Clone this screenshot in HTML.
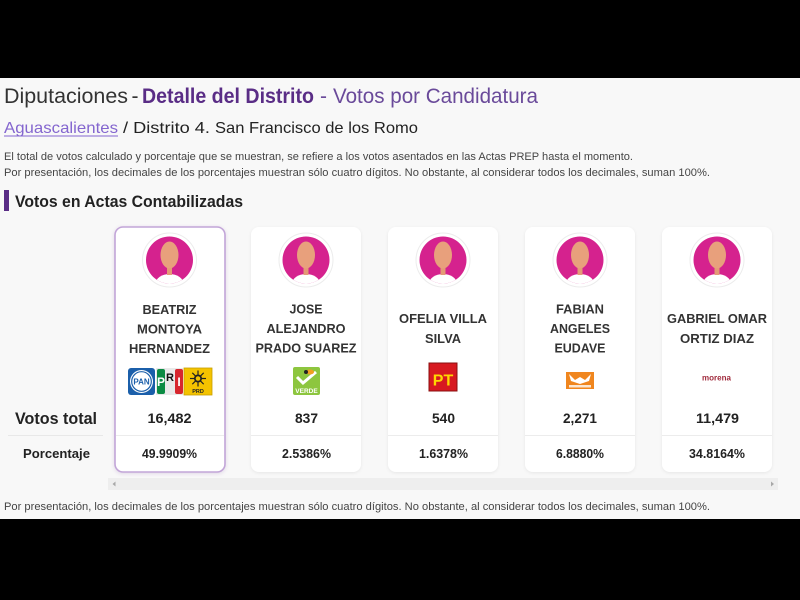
<!DOCTYPE html>
<html>
<head>
<meta charset="utf-8">
<style>
  html,body{margin:0;padding:0;background:#000;}
  svg{display:block;}
  text{font-family:"Liberation Sans", Arial, sans-serif;}
</style>
</head>
<body>
<svg width="800" height="600" viewBox="0 0 800 600" xmlns="http://www.w3.org/2000/svg">
  <defs>
    <filter id="sh" x="-10%" y="-10%" width="120%" height="120%">
      <feDropShadow dx="0" dy="1" stdDeviation="1.5" flood-color="#000" flood-opacity="0.07"/>
    </filter>
    <filter id="sh1" x="-10%" y="-10%" width="120%" height="120%">
      <feDropShadow dx="0" dy="1" stdDeviation="1.8" flood-color="#6a3d8f" flood-opacity="0.18"/>
    </filter>
    <clipPath id="av1"><circle cx="169.5" cy="260" r="23.5"/></clipPath>
    <clipPath id="av2"><circle cx="306" cy="260" r="23.5"/></clipPath>
    <clipPath id="av3"><circle cx="443" cy="260" r="23.5"/></clipPath>
    <clipPath id="av4"><circle cx="580" cy="260" r="23.5"/></clipPath>
    <clipPath id="av5"><circle cx="717" cy="260" r="23.5"/></clipPath>
  </defs>

  <!-- black bars + page -->
  <rect x="0" y="0" width="800" height="600" fill="#000"/>
  <rect x="0" y="78" width="800" height="441" fill="#f8f8f8"/>

  <!-- Title -->
  <text x="4" y="103" font-size="21" fill="#333" textLength="124" lengthAdjust="spacingAndGlyphs">Diputaciones</text>
  <text x="131.5" y="103" font-size="21" fill="#333">-</text>
  <text x="142" y="103" font-size="21" font-weight="bold" fill="#5a2d86" textLength="172" lengthAdjust="spacingAndGlyphs">Detalle del Distrito</text>
  <text x="320" y="103" font-size="21" fill="#6a4a9a">-</text>
  <text x="333" y="103" font-size="21" fill="#6a4a9a" textLength="205" lengthAdjust="spacingAndGlyphs">Votos por Candidatura</text>

  <!-- Breadcrumb -->
  <text x="4" y="133" font-size="16" fill="#8466cf" textLength="114" lengthAdjust="spacingAndGlyphs">Aguascalientes</text>
  <rect x="4" y="135.5" width="114" height="1" fill="#8466cf"/>
  <text x="123" y="133" font-size="16" fill="#222" textLength="87" lengthAdjust="spacingAndGlyphs">/ Distrito 4.</text>
  <text x="215" y="133" font-size="16" fill="#222" textLength="203" lengthAdjust="spacingAndGlyphs">San Francisco de los Romo</text>

  <!-- info text -->
  <text x="4" y="160" font-size="11" fill="#444" textLength="629" lengthAdjust="spacingAndGlyphs">El total de votos calculado y porcentaje que se muestran, se refiere a los votos asentados en las Actas PREP hasta el momento.</text>
  <text x="4" y="176" font-size="11" fill="#444" textLength="706" lengthAdjust="spacingAndGlyphs">Por presentación, los decimales de los porcentajes muestran sólo cuatro dígitos. No obstante, al considerar todos los decimales, suman 100%.</text>

  <!-- Section heading -->
  <rect x="4" y="190" width="5" height="21" fill="#5a2d86"/>
  <text x="15" y="207" font-size="17" font-weight="bold" fill="#222" textLength="228" lengthAdjust="spacingAndGlyphs">Votos en Actas Contabilizadas</text>

  <!-- Row labels -->
  <text x="15" y="424" font-size="17" font-weight="bold" fill="#222" textLength="82" lengthAdjust="spacingAndGlyphs">Votos total</text>
  <rect x="8" y="435" width="95" height="1" fill="#e8e8e8"/>
  <text x="23" y="458" font-size="13" font-weight="bold" fill="#222" textLength="67" lengthAdjust="spacingAndGlyphs">Porcentaje</text>

  <!-- Cards -->
  <rect x="115" y="227" width="110" height="245" rx="8" fill="#fff" stroke="#c2a5d8" stroke-width="1.6" filter="url(#sh1)"/>
  <rect x="251" y="227" width="110" height="245" rx="8" fill="#fff" filter="url(#sh)"/>
  <rect x="388" y="227" width="110" height="245" rx="8" fill="#fff" filter="url(#sh)"/>
  <rect x="525" y="227" width="110" height="245" rx="8" fill="#fff" filter="url(#sh)"/>
  <rect x="662" y="227" width="110" height="245" rx="8" fill="#fff" filter="url(#sh)"/>

  <!-- dividers in cards -->
  <rect x="116" y="435" width="108" height="1" fill="#ececec"/>
  <rect x="251" y="435" width="110" height="1" fill="#ececec"/>
  <rect x="388" y="435" width="110" height="1" fill="#ececec"/>
  <rect x="525" y="435" width="110" height="1" fill="#ececec"/>
  <rect x="662" y="435" width="110" height="1" fill="#ececec"/>

  <!-- Avatars -->
  <g>
    <circle cx="169.5" cy="260" r="27" fill="#fff" stroke="#ececec" stroke-width="1"/>
    <circle cx="169.5" cy="260" r="23.5" fill="#d5228e"/>
    <g clip-path="url(#av1)">
      <ellipse cx="169.5" cy="284" rx="14" ry="10" fill="#fff"/>
      <rect x="167" y="264" width="5" height="11" fill="#e39a76"/>
      <ellipse cx="169.5" cy="255" rx="9" ry="13.5" fill="#e8a07c"/>
    </g>
  </g>
  <g>
    <circle cx="306" cy="260" r="27" fill="#fff" stroke="#ececec" stroke-width="1"/>
    <circle cx="306" cy="260" r="23.5" fill="#d5228e"/>
    <g clip-path="url(#av2)">
      <ellipse cx="306" cy="284" rx="14" ry="10" fill="#fff"/>
      <rect x="303.5" y="264" width="5" height="11" fill="#e39a76"/>
      <ellipse cx="306" cy="255" rx="9" ry="13.5" fill="#e8a07c"/>
    </g>
  </g>
  <g>
    <circle cx="443" cy="260" r="27" fill="#fff" stroke="#ececec" stroke-width="1"/>
    <circle cx="443" cy="260" r="23.5" fill="#d5228e"/>
    <g clip-path="url(#av3)">
      <ellipse cx="443" cy="284" rx="14" ry="10" fill="#fff"/>
      <rect x="440.5" y="264" width="5" height="11" fill="#e39a76"/>
      <ellipse cx="443" cy="255" rx="9" ry="13.5" fill="#e8a07c"/>
    </g>
  </g>
  <g>
    <circle cx="580" cy="260" r="27" fill="#fff" stroke="#ececec" stroke-width="1"/>
    <circle cx="580" cy="260" r="23.5" fill="#d5228e"/>
    <g clip-path="url(#av4)">
      <ellipse cx="580" cy="284" rx="14" ry="10" fill="#fff"/>
      <rect x="577.5" y="264" width="5" height="11" fill="#e39a76"/>
      <ellipse cx="580" cy="255" rx="9" ry="13.5" fill="#e8a07c"/>
    </g>
  </g>
  <g>
    <circle cx="717" cy="260" r="27" fill="#fff" stroke="#ececec" stroke-width="1"/>
    <circle cx="717" cy="260" r="23.5" fill="#d5228e"/>
    <g clip-path="url(#av5)">
      <ellipse cx="717" cy="284" rx="14" ry="10" fill="#fff"/>
      <rect x="714.5" y="264" width="5" height="11" fill="#e39a76"/>
      <ellipse cx="717" cy="255" rx="9" ry="13.5" fill="#e8a07c"/>
    </g>
  </g>

  <!-- Names -->
  <g font-size="13" font-weight="bold" fill="#333" text-anchor="middle">
    <text x="169.5" y="314" textLength="54" lengthAdjust="spacingAndGlyphs">BEATRIZ</text>
    <text x="169.5" y="333.5" textLength="65" lengthAdjust="spacingAndGlyphs">MONTOYA</text>
    <text x="169.5" y="353" textLength="81" lengthAdjust="spacingAndGlyphs">HERNANDEZ</text>

    <text x="306" y="313.5" textLength="33" lengthAdjust="spacingAndGlyphs">JOSE</text>
    <text x="306" y="333" textLength="79" lengthAdjust="spacingAndGlyphs">ALEJANDRO</text>
    <text x="306" y="352.5" textLength="101" lengthAdjust="spacingAndGlyphs">PRADO SUAREZ</text>

    <text x="443" y="323" textLength="88" lengthAdjust="spacingAndGlyphs">OFELIA VILLA</text>
    <text x="443" y="343" textLength="36" lengthAdjust="spacingAndGlyphs">SILVA</text>

    <text x="580" y="313.5" textLength="48" lengthAdjust="spacingAndGlyphs">FABIAN</text>
    <text x="580" y="333" textLength="60" lengthAdjust="spacingAndGlyphs">ANGELES</text>
    <text x="580" y="352.5" textLength="51" lengthAdjust="spacingAndGlyphs">EUDAVE</text>

    <text x="717" y="323" textLength="100" lengthAdjust="spacingAndGlyphs">GABRIEL OMAR</text>
    <text x="717" y="343" textLength="74" lengthAdjust="spacingAndGlyphs">ORTIZ DIAZ</text>
  </g>

  <!-- Logos: PAN -->
  <rect x="128" y="368" width="27" height="27" rx="3" fill="#1b5faa"/>
  <circle cx="141.5" cy="381.5" r="11.5" fill="#fff"/>
  <circle cx="141.5" cy="381.5" r="9.8" fill="none" stroke="#1b5faa" stroke-width="1.2"/>
  <text x="141.5" y="384.5" font-size="8" font-weight="bold" fill="#1b5faa" text-anchor="middle">PAN</text>
  <!-- PRI -->
  <rect x="156" y="368" width="27" height="27" fill="#e9e9e9"/>
  <rect x="157" y="369" width="8" height="25" rx="2" fill="#0b8b43"/>
  <rect x="175" y="369" width="8" height="25" rx="2" fill="#d7262e"/>
  <text x="161" y="386" font-size="12" font-weight="bold" fill="#fff" text-anchor="middle">P</text>
  <text x="170" y="381" font-size="11" font-weight="bold" fill="#111" text-anchor="middle">R</text>
  <text x="179" y="386" font-size="12" font-weight="bold" fill="#fff" text-anchor="middle">I</text>
  <!-- PRD -->
  <rect x="184" y="368" width="28" height="27" fill="#f4c300" stroke="#c79f00" stroke-width="0.8"/>
  <g stroke="#222" stroke-width="1.2">
    <line x1="198" y1="370.5" x2="198" y2="386.5"/>
    <line x1="190" y1="378.5" x2="206" y2="378.5"/>
    <line x1="192.3" y1="372.8" x2="203.7" y2="384.2"/>
    <line x1="203.7" y1="372.8" x2="192.3" y2="384.2"/>
  </g>
  <circle cx="198" cy="378.5" r="4" fill="#222"/>
  <circle cx="198" cy="378.5" r="2.3" fill="#f4c300"/>
  <text x="198" y="393" font-size="5.5" font-weight="bold" fill="#222" text-anchor="middle">PRD</text>
  <!-- VERDE -->
  <rect x="293" y="367" width="27" height="28" rx="2" fill="#8dc63f"/>
  <path d="M297 377 L303 383 L316 372" stroke="#fff" stroke-width="3" fill="none"/>
  <ellipse cx="310" cy="372" rx="4" ry="2.5" fill="#f0a020"/>
  <circle cx="306" cy="372" r="2" fill="#222"/>
  <text x="306.5" y="393" font-size="6.5" font-weight="bold" fill="#fff" text-anchor="middle">VERDE</text>
  <!-- PT -->
  <rect x="429" y="363" width="28" height="28" fill="#d71920" stroke="#8a1010" stroke-width="1"/>
  <text x="443" y="385.5" font-size="16" font-weight="bold" fill="#ffd800" text-anchor="middle">PT</text>
  <!-- MC -->
  <rect x="566" y="372" width="28" height="17" fill="#f0861e"/>
  <path d="M569 374 L575 380 L580 377 L585 380 L591 374 L589 381 L580 384 L571 381 Z" fill="#fff"/>
  <rect x="569" y="385" width="22" height="2.5" fill="#fff" opacity="0.8"/>
  <!-- morena -->
  <text x="716.5" y="380.5" font-size="8" font-weight="bold" fill="#a02a3c" text-anchor="middle" textLength="29" lengthAdjust="spacingAndGlyphs">morena</text>

  <!-- Votes -->
  <g font-size="14" font-weight="bold" fill="#222" text-anchor="middle">
    <text x="169.5" y="423" textLength="44" lengthAdjust="spacingAndGlyphs">16,482</text>
    <text x="306.5" y="423" textLength="23" lengthAdjust="spacingAndGlyphs">837</text>
    <text x="443.5" y="423" textLength="23" lengthAdjust="spacingAndGlyphs">540</text>
    <text x="580" y="423" textLength="34" lengthAdjust="spacingAndGlyphs">2,271</text>
    <text x="717.5" y="423" textLength="43" lengthAdjust="spacingAndGlyphs">11,479</text>
  </g>
  <!-- Percentages -->
  <g font-size="13" font-weight="bold" fill="#222" text-anchor="middle">
    <text x="169.5" y="458" textLength="55" lengthAdjust="spacingAndGlyphs">49.9909%</text>
    <text x="306.5" y="458" textLength="49" lengthAdjust="spacingAndGlyphs">2.5386%</text>
    <text x="443.5" y="458" textLength="49" lengthAdjust="spacingAndGlyphs">1.6378%</text>
    <text x="580" y="458" textLength="48" lengthAdjust="spacingAndGlyphs">6.8880%</text>
    <text x="717" y="458" textLength="56" lengthAdjust="spacingAndGlyphs">34.8164%</text>
  </g>

  <!-- scrollbar -->
  <rect x="108" y="478" width="670" height="12" fill="#eeeeee"/>
  <path d="M115.5 481.5 L112.5 484 L115.5 486.5 Z" fill="#a8a8a8"/>
  <path d="M771 481.5 L774 484 L771 486.5 Z" fill="#a8a8a8"/>

  <!-- footer note -->
  <text x="4" y="510" font-size="11" fill="#444" textLength="706" lengthAdjust="spacingAndGlyphs">Por presentación, los decimales de los porcentajes muestran sólo cuatro dígitos. No obstante, al considerar todos los decimales, suman 100%.</text>
</svg>
</body>
</html>
